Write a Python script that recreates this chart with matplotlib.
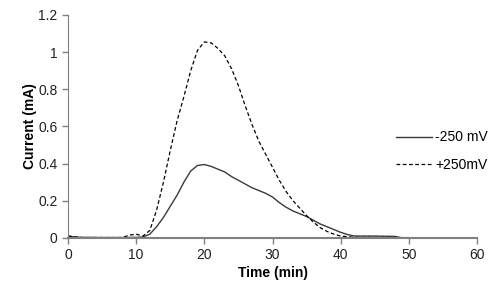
import matplotlib
matplotlib.use('Agg')
import matplotlib.pyplot as plt

plt.rcParams['font.family'] = ['Liberation Sans', 'DejaVu Sans']

# -250 mV trace
t_neg = [0, 1, 2, 5, 8, 10, 11, 12, 13, 14, 15, 16, 17, 18, 19, 20, 21, 22, 23, 24, 25,
         26, 27, 28, 29, 30, 31, 32, 33, 34, 35, 36, 37, 38, 39, 40, 41, 42, 45, 48, 49, 60]
i_neg = [0.01, 0.005, 0.003, 0.002, 0.002, 0.003, 0.005, 0.02, 0.06, 0.11, 0.17, 0.23,
         0.30, 0.36, 0.39, 0.395, 0.385, 0.37, 0.355, 0.33, 0.31, 0.29, 0.27, 0.255, 0.24,
         0.22, 0.19, 0.165, 0.145, 0.13, 0.115, 0.095, 0.075, 0.06, 0.045, 0.03, 0.018,
         0.01, 0.01, 0.008, 0.0, 0.0]

# +250 mV trace
t_pos = [0, 1, 2, 8, 9, 10, 11, 12, 13, 14, 15, 16, 17, 18, 19, 20, 21, 22, 23, 24, 25,
         26, 27, 28, 29, 30, 31, 32, 33, 34, 35, 36, 37, 38, 39, 40, 42, 60]
i_pos = [0.01, 0.005, 0.002, 0.002, 0.015, 0.02, 0.01, 0.04, 0.15, 0.30, 0.47, 0.63,
         0.76, 0.90, 1.01, 1.055, 1.05, 1.02, 0.98, 0.91, 0.82, 0.71, 0.61, 0.52, 0.45,
         0.38, 0.31, 0.25, 0.20, 0.16, 0.12, 0.085, 0.055, 0.035, 0.02, 0.01, 0.003, 0.0]

fig = plt.figure(figsize=(5, 3), dpi=100)
ax = fig.add_axes([0.136, 0.207, 0.818, 0.743])

ax.plot(t_neg, i_neg, color='#3a3a3a', lw=1.0, label='-250 mV')
ax.plot(t_pos, i_pos, color='black', lw=0.9, dashes=(3, 2), label='+250mV')

ax.set_xlim(0, 60)
ax.set_ylim(0, 1.2)
ax.set_xticks(range(0, 61, 10))
ax.set_yticks([0, 0.2, 0.4, 0.6, 0.8, 1, 1.2])
ax.set_yticklabels(['0', '0.2', '0.4', '0.6', '0.8', '1', '1.2'])

for s in ['top', 'right']:
    ax.spines[s].set_visible(False)
ax.spines['left'].set_color('#808080')
ax.spines['bottom'].set_color('#808080')
ax.spines['bottom'].set_linewidth(1.5)
ax.tick_params(axis='both', colors='#808080', labelcolor='#222222', labelsize=10,
               length=4, width=1)

ax.set_xlabel('Time (min)', fontsize=10, fontweight='bold', labelpad=3)
ax.set_ylabel('Current (mA)', fontsize=10, fontweight='bold', labelpad=1)

ax.legend(loc='center left', bbox_to_anchor=(0.772, 0.39), frameon=False, fontsize=10,
          handlelength=2.6, handletextpad=0.2, labelspacing=0.95)

fig.savefig('out.png', dpi=100)
